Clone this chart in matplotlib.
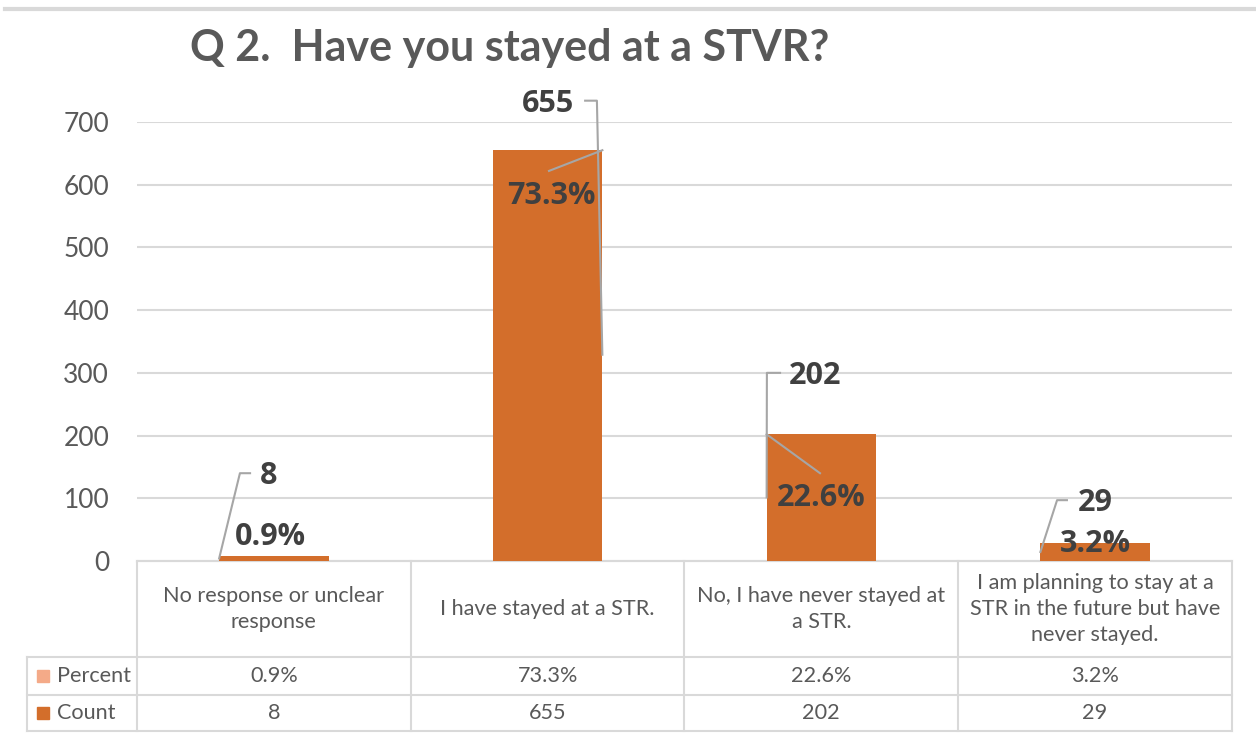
import matplotlib.pyplot as plt
from matplotlib.lines import Line2D
from matplotlib.patches import Rectangle

# Datos
categorias = [
    "No response or unclear\nresponse",
    "I have stayed at a STR.",
    "No, I have never stayed at\na STR.",
    "I am planning to stay at a\nSTR in the future but have\nnever stayed.",
]
conteo = [8, 655, 202, 29]
porcentaje = [0.009, 0.733, 0.226, 0.032]
etiquetas_pct = ["0.9%", "73.3%", "22.6%", "3.2%"]

# Colores
naranja = "#D36E2B"
salmon = "#F4AA88"
gris_texto = "#595959"
gris_etiqueta = "#404040"
gris_linea = "#D9D9D9"
gris_guia = "#A6A6A6"

W, H = 1256, 740
fig = plt.figure(figsize=(W / 100, H / 100), dpi=100)

# Ejes principales (pixeles del original)
x0, x1, y_cero, y_top = 137, 1232, 561, 122
ax = fig.add_axes([x0 / W, 1 - y_cero / H, (x1 - x0) / W, (y_cero - y_top) / H])
ax2 = ax.twinx()
ax.set_zorder(ax2.get_zorder() + 1)
ax.patch.set_visible(False)

x = list(range(len(conteo)))
ancho = 0.4
ax.bar(x, conteo, width=ancho, color=naranja, zorder=3)
ax2.bar(x, porcentaje, width=ancho, color=salmon)

ax.set_xlim(-0.5, 3.5)
ax.set_ylim(0, 700)
ax.set_yticks(range(0, 701, 100))
ax2.set_ylim(0, 1.56)
ax2.axis("off")

ax.grid(axis="y", color=gris_linea, linewidth=1.5, zorder=0)
ax.set_axisbelow(True)
for s in ax.spines.values():
    s.set_visible(False)
ax.spines["bottom"].set_visible(True)
ax.spines["bottom"].set_color(gris_linea)
ax.spines["bottom"].set_linewidth(1.5)
ax.set_xticks([])
ax.tick_params(axis="y", length=0, pad=20, labelsize=19, labelcolor=gris_texto)
for t in ax.get_yticklabels():
    t.set_fontfamily("Lato")

# Etiquetas de conteo y porcentaje (posiciones en unidades de datos)
pos_conteo = [(-0.02, 135), (1.0, 729), (1.977, 295), (3.0, 92)]
pos_pct = [(-0.014, 38), (1.012, 582), (2.0, 100), (3.0, 27)]
fuente_etq = dict(fontfamily="Open Sans", fontweight="bold", fontsize=22,
                  color=gris_etiqueta, ha="center", va="center", zorder=6)
for i in x:
    ax.text(*pos_conteo[i], str(conteo[i]), clip_on=False, **fuente_etq)
    ax.text(*pos_pct[i], etiquetas_pct[i], clip_on=False, **fuente_etq)

# Lineas guia (estilo Excel)
esquina = [-ancho / 2, ancho / 2, -ancho / 2, -ancho / 2]
codo = [(-0.087, -0.124), (1.137, 1.18), (1.849, 1.801), (2.897, 2.861)]
for i in x:
    ylab = pos_conteo[i][1] + 5
    y_pct = ax.transData.inverted().transform(
        ax2.transData.transform((0, porcentaje[i])))[1]
    xs = [codo[i][0], codo[i][1], i + esquina[i]]
    ys = [ylab, ylab, y_pct]
    ax.plot(xs, ys, color=gris_guia, linewidth=1.5, zorder=5, clip_on=False)
# guias de porcentaje hacia la parte superior de las barras
fin_pct = {1: (1.005, 622), 2: (1.995, 140)}
for i, (xe, ye) in fin_pct.items():
    ax.plot([i + esquina[i], xe], [conteo[i], ye],
            color=gris_guia, linewidth=1.5, zorder=5)

# Titulo
fig.text(510 / W, 1 - 48 / H, "Q 2.  Have you stayed at a STVR?", ha="center",
         va="center", fontsize=31, fontweight="bold", fontfamily="Lato",
         color=gris_texto)
fig.add_artist(Line2D([5 / W, 1], [1 - 9 / H, 1 - 9 / H], color=gris_linea,
                      linewidth=3, transform=fig.transFigure))

# Tabla de datos
tx0 = 27
xl = -0.5 - (x0 - tx0) / ((x1 - x0) / 4)
tab = fig.add_axes([tx0 / W, 1 - 731 / H, (x1 - tx0) / W, (731 - y_cero) / H])
tab.set_xlim(xl, 3.5)
tab.set_ylim(170, 0)
tab.axis("off")
filas = [0, 96, 134, 170]
lw = 1.5
# horizontales
tab.plot([-0.5, 3.5], [0, 0], color=gris_linea, lw=lw)
for yy in filas[1:]:
    tab.plot([xl, 3.5], [yy, yy], color=gris_linea, lw=lw, clip_on=False)
# verticales
for k in range(5):
    tab.plot([k - 0.5, k - 0.5], [0, 170], color=gris_linea, lw=lw, clip_on=False)
tab.plot([xl, xl], [96, 170], color=gris_linea, lw=lw, clip_on=False)

fuente_tab = dict(fontfamily="Lato", fontsize=15.6, color=gris_texto,
                  ha="center", va="center", linespacing=1.4)
for i in x:
    tab.text(i, 48, categorias[i], **fuente_tab)
    tab.text(i, 115, etiquetas_pct[i], **fuente_tab)
    tab.text(i, 152, str(conteo[i]), **fuente_tab)

escala = (x1 - x0) / 4
for nombre, color, yc in [("Percent", salmon, 115), ("Count", naranja, 152)]:
    tab.add_patch(Rectangle((xl + 10 / escala, yc - 6), 12 / escala, 12,
                            color=color, clip_on=False))
    tab.text(xl + 30 / escala, yc, nombre, fontfamily="Lato", fontsize=15.6,
             color=gris_texto, ha="left", va="center")

fig.savefig("out.png", dpi=100)
